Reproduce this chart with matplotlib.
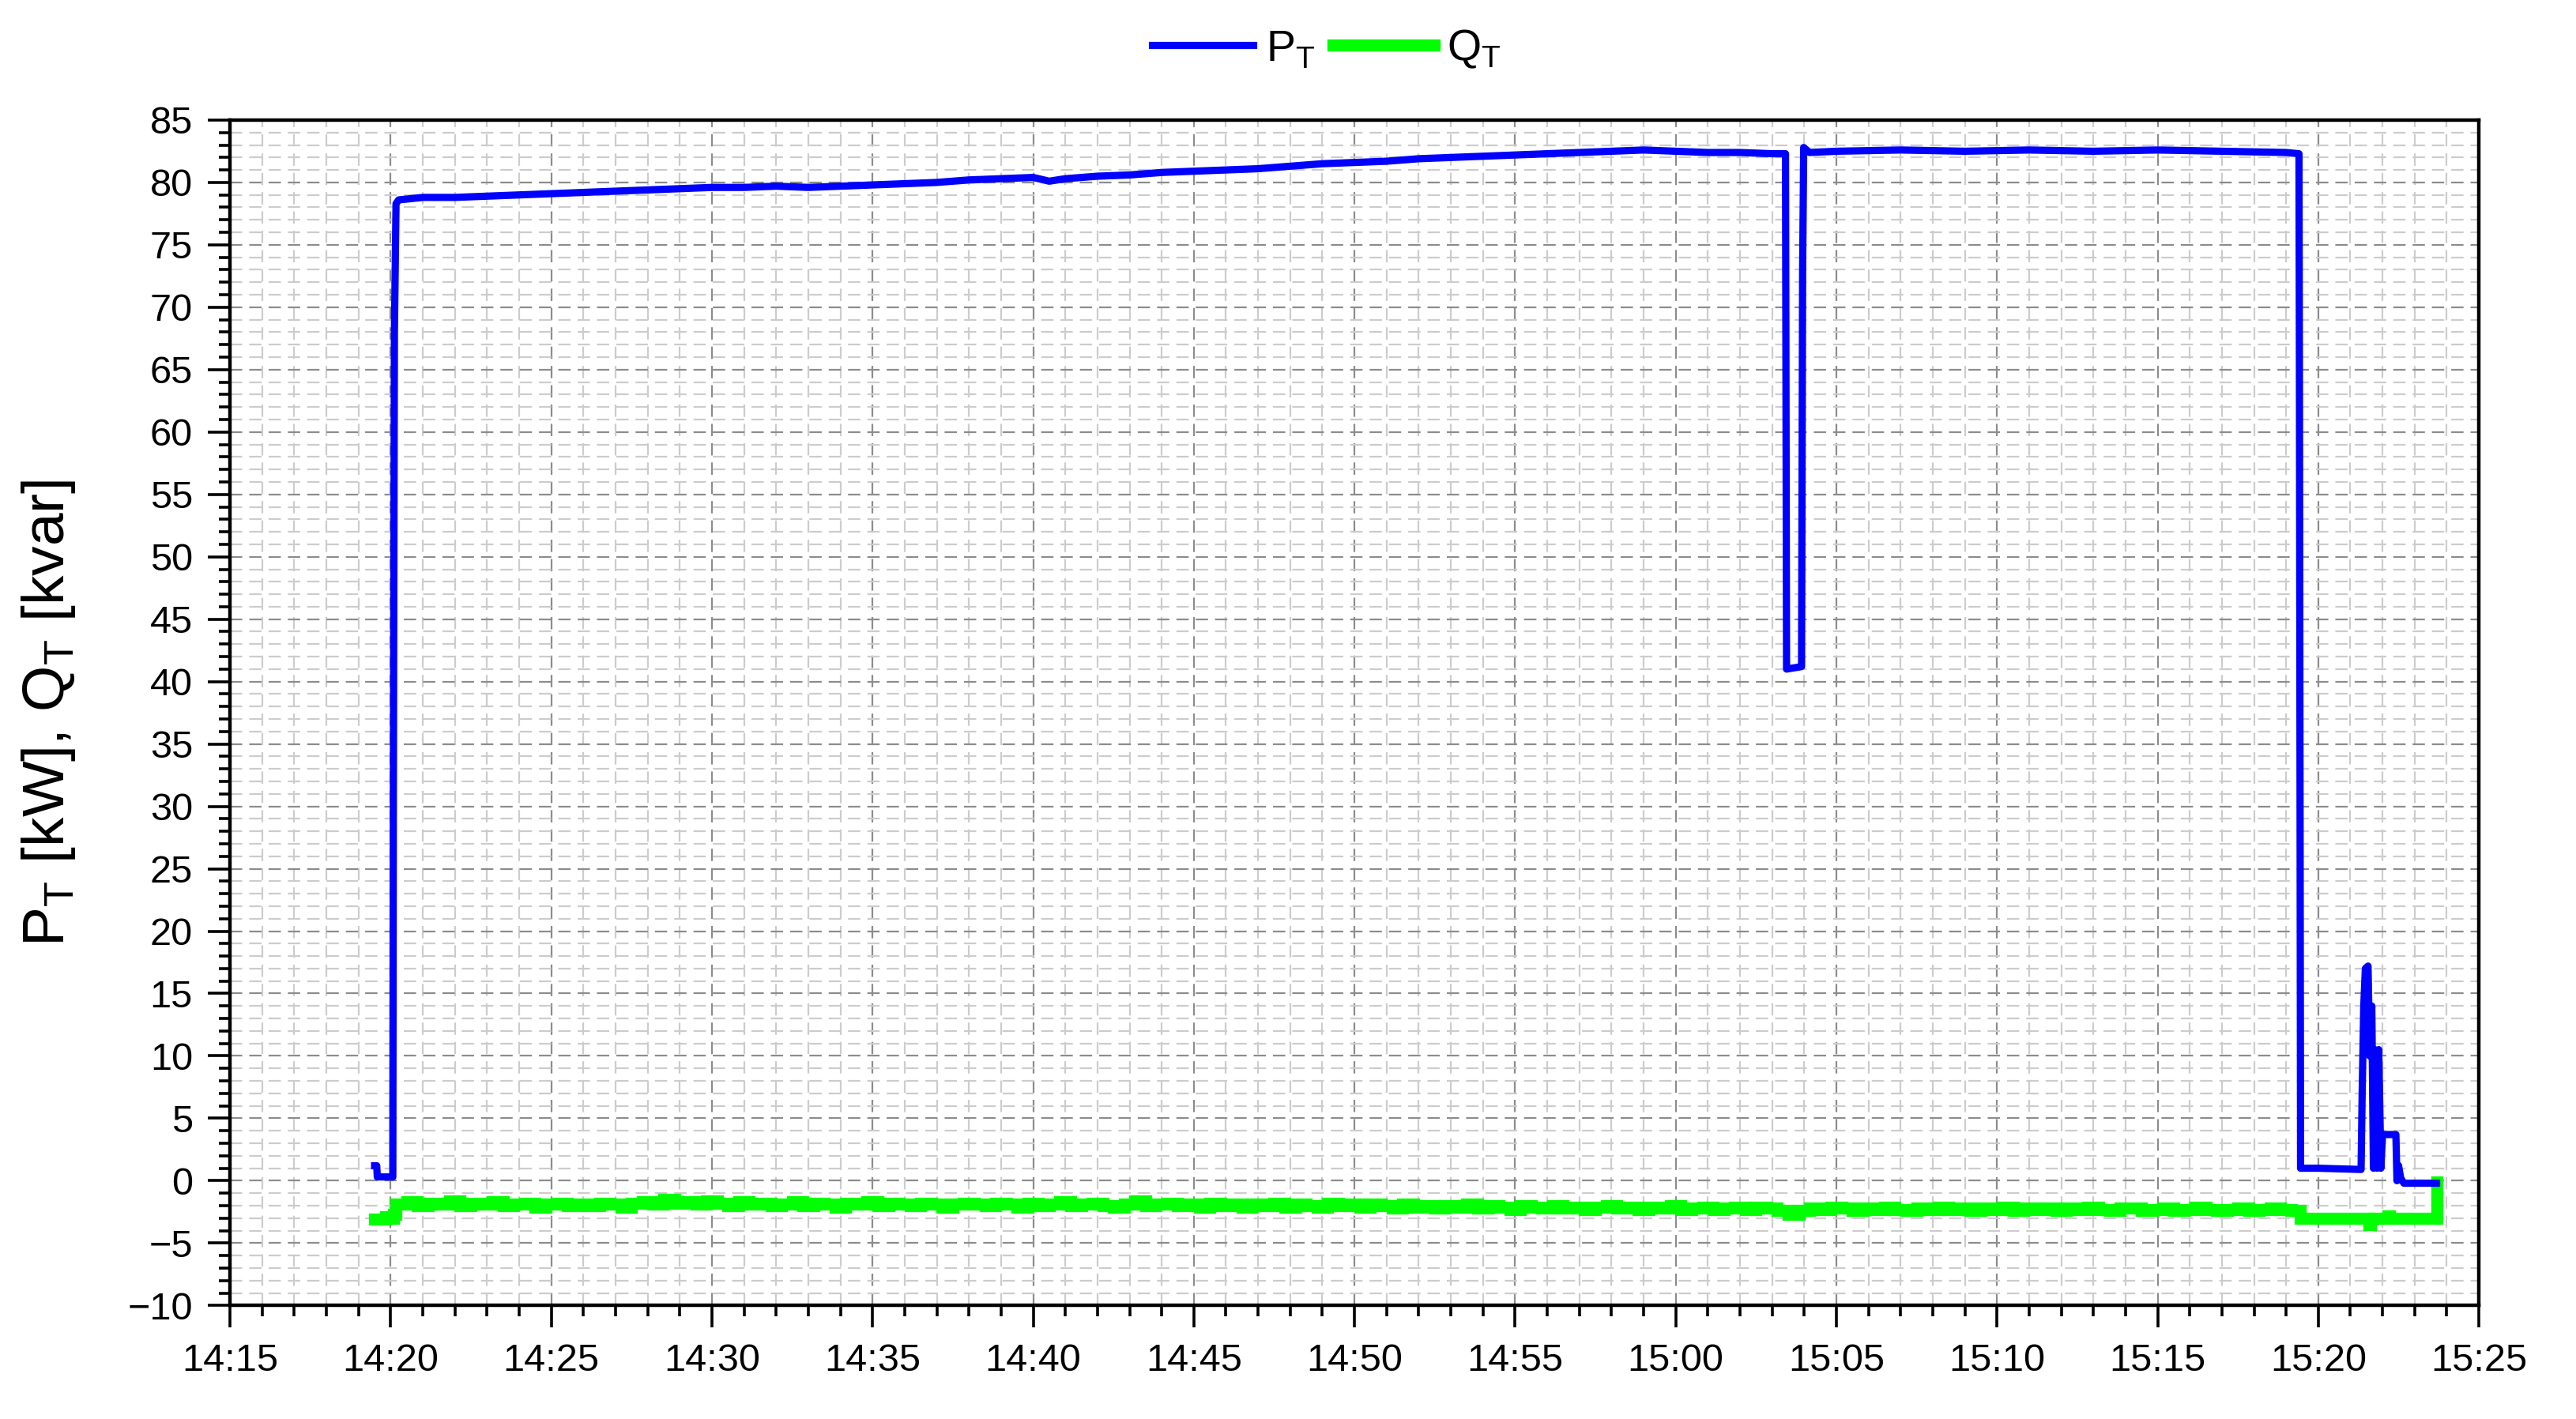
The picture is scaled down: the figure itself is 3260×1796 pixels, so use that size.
import matplotlib
matplotlib.use("Agg")
import matplotlib.pyplot as plt
from matplotlib.ticker import MultipleLocator, FuncFormatter
import numpy as np

plt.rcParams['font.family'] = ['Liberation Sans', 'DejaVu Sans']
plt.rcParams['mathtext.fontset'] = 'custom'
plt.rcParams['mathtext.rm'] = 'Liberation Sans'


def hms(s):
    h, m, sec = s.split(':')
    return int(h) * 60 + int(m) + int(sec) / 60.0


# active power P_T [kW]
p_times = ["14:19:30", "14:19:34", "14:19:35", "14:20:04", "14:20:05", "14:20:07",
           "14:20:10", "14:20:15", "14:21:00", "14:22:00", "14:23:00", "14:24:00",
           "14:25:00", "14:26:00", "14:27:00", "14:28:00", "14:29:00", "14:30:00",
           "14:31:00", "14:32:00", "14:33:00", "14:34:00", "14:35:00", "14:36:00",
           "14:37:00", "14:38:00", "14:39:00", "14:40:00", "14:40:30", "14:41:00",
           "14:42:00", "14:43:00", "14:44:00", "14:45:00", "14:46:00", "14:47:00",
           "14:48:00", "14:49:00", "14:50:00", "14:51:00", "14:52:00", "14:53:00",
           "14:54:00", "14:55:00", "14:56:00", "14:57:00", "14:58:00", "14:59:00",
           "15:00:00", "15:01:00", "15:02:00", "15:03:00", "15:03:25", "15:03:27",
           "15:03:55", "15:03:57", "15:03:59", "15:04:10", "15:05:00", "15:07:00",
           "15:09:00", "15:11:00", "15:13:00", "15:15:00", "15:17:00", "15:19:00",
           "15:19:24", "15:19:25", "15:19:27", "15:20:00", "15:21:20", "15:21:22",
           "15:21:25", "15:21:28", "15:21:33", "15:21:36", "15:21:40", "15:21:43",
           "15:21:46", "15:21:50", "15:21:53", "15:21:57", "15:22:00", "15:22:25",
           "15:22:27", "15:22:30", "15:22:34", "15:22:40", "15:23:41"]
p_values = [1.2, 1.2, 0.3, 0.3, 31.0, 68.0,
            78.3, 78.6, 78.8, 78.8, 78.9, 79.0,
            79.1, 79.2, 79.3, 79.4, 79.5, 79.6,
            79.6, 79.7, 79.6, 79.7, 79.8, 79.9,
            80.0, 80.2, 80.3, 80.4, 80.1, 80.3,
            80.5, 80.6, 80.8, 80.9, 81.0, 81.1,
            81.3, 81.5, 81.6, 81.7, 81.9, 82.0,
            82.1, 82.2, 82.3, 82.4, 82.5, 82.6,
            82.5, 82.4, 82.4, 82.3, 82.3, 41.0,
            41.2, 73.0, 82.8, 82.4, 82.5, 82.6,
            82.5, 82.6, 82.5, 82.6, 82.5, 82.4,
            82.3, 61.0, 1.0, 1.0, 0.9, 7.0,
            14.0, 17.0, 17.2, 10.0, 14.0, 1.0,
            10.5, 1.0, 10.5, 1.0, 3.7, 3.7,
            0.0, 1.2, 0.2, -0.2, -0.2]

# reactive power Q_T [kvar]
q_start_times = ["14:19:30", "14:19:50", "14:20:03", "14:20:06"]
q_start_values = [-3.1, -2.9, -3.0, -2.7]

# 20 s samples from 14:20:10 to 15:19:10
q_band_start = "14:20:10"
q_band_values = [
    -1.9, -1.7, -2.0, -1.8, -1.9, -1.6, -2.0, -1.8, -1.9,
    -1.7, -2.0, -1.9, -1.8, -2.1, -1.9, -1.8, -2.0, -1.9,
    -2.0, -1.8, -1.9, -2.1, -1.8, -1.7, -1.9, -1.5, -1.8,
    -1.7, -1.9, -1.6, -1.8, -2.0, -1.7, -1.9, -1.8, -2.0,
    -1.9, -1.7, -2.0, -1.8, -1.9, -2.1, -1.8, -1.9, -1.7,
    -2.0, -1.8, -1.9, -2.0, -1.8, -1.9, -2.1, -1.9, -1.8,
    -1.9, -2.0, -1.8, -1.9, -2.1, -1.8, -2.0, -1.9, -1.7,
    -2.0, -1.9, -1.8, -2.0, -2.1, -1.9, -1.6, -2.0, -1.9,
    -1.8, -2.0, -1.9, -2.1, -1.8, -2.0, -1.9, -2.1, -1.9,
    -2.0, -1.8, -2.1, -1.9, -2.0, -2.1, -1.8, -2.0, -1.9,
    -2.1, -1.9, -2.0, -2.2, -1.9, -2.1, -2.0, -2.2, -2.0,
    -2.1, -1.9, -2.2, -2.0, -2.1, -2.3, -2.0, -2.1, -2.2,
    -2.0, -2.2, -2.1, -2.3, -2.1, -2.0, -2.2, -2.1, -2.3,
    -2.1, -2.2, -2.0, -2.3, -2.2, -2.1, -2.3, -2.2, -2.1,
    -2.3, -2.1, -2.2, -2.4, -2.7, -2.4, -2.2, -2.3, -2.1,
    -2.2, -2.4, -2.2, -2.3, -2.1, -2.3, -2.4, -2.2, -2.3,
    -2.1, -2.3, -2.2, -2.4, -2.2, -2.3, -2.1, -2.4, -2.2,
    -2.3, -2.2, -2.4, -2.2, -2.3, -2.1, -2.3, -2.4, -2.2,
    -2.2, -2.4, -2.3, -2.2, -2.4, -2.3, -2.1, -2.3, -2.4,
    -2.3, -2.2, -2.4, -2.3, -2.2, -2.3, -2.4,
]

q_end_times = ["15:19:26", "15:21:34", "15:21:38", "15:21:42", "15:22:10",
               "15:22:13", "15:23:40", "15:23:41"]
q_end_values = [-3.0, -3.5, -3.1, -3.0, -2.8, -3.0, -3.0, -0.1]

x_tick_labels = ["14:15", "14:20", "14:25", "14:30", "14:35", "14:40", "14:45", "14:50",
                 "14:55", "15:00", "15:05", "15:10", "15:15", "15:20", "15:25"]

# build series
p_x = [hms(t) for t in p_times]
q_band_x = hms(q_band_start) + np.arange(len(q_band_values)) * 20 / 60.0
q_x = [hms(t) for t in q_start_times] + list(q_band_x) + [hms(t) for t in q_end_times]
q_y = q_start_values + q_band_values + q_end_values

fig = plt.figure(figsize=(16.3, 8.98), dpi=200)
ax = fig.add_axes([0.0893, 0.080, 0.873, 0.8354])

ax.plot(q_x, q_y, color='#00ff00', linewidth=5.5, drawstyle='steps-post',
        solid_joinstyle='miter', label=r'Q$_\mathregular{T}$', zorder=3)
ax.plot(p_x, p_values, color='#0000ff', linewidth=3.3, label=r'P$_\mathregular{T}$', zorder=4)

xt = [hms(t + ":00") for t in x_tick_labels]
ax.set_xlim(xt[0], xt[-1])
ax.set_ylim(-10, 85)
ax.set_xticks(xt)
ax.set_xticklabels(x_tick_labels)
ax.xaxis.set_minor_locator(MultipleLocator(1))
ax.yaxis.set_major_locator(MultipleLocator(5))
ax.yaxis.set_minor_locator(MultipleLocator(1))
ax.yaxis.set_major_formatter(FuncFormatter(lambda v, pos: ('\u2212%d' % -v) if v < 0 else '%d' % v))

ax.grid(which='minor', color='#cccccc', linestyle=(0, (7, 4)), linewidth=0.8, zorder=0)
ax.grid(which='major', color='#8c8c8c', linestyle=(0, (7, 4)), linewidth=0.8, zorder=1)
ax.set_axisbelow(True)

ax.tick_params(which='major', direction='out', length=10, width=1.3, labelsize=17.5, pad=7,
               top=False, right=False)
ax.tick_params(which='minor', direction='out', length=5, width=1.3, top=False, right=False)
for sp in ax.spines.values():
    sp.set_linewidth(1.6)
    sp.set_color('black')

ax.set_ylabel(r'P$_\mathregular{T}$ [kW], Q$_\mathregular{T}$ [kvar]', fontsize=27)
ax.yaxis.set_label_coords(-0.068, 0.5)

h, l = ax.get_legend_handles_labels()
fig.legend([h[1], h[0]], [l[1], l[0]], loc='center', bbox_to_anchor=(0.515, 0.965), ncol=2,
           frameon=False, fontsize=20, handlelength=2.3, handletextpad=0.3,
           columnspacing=0.4)

fig.savefig('out.png', dpi=200)
